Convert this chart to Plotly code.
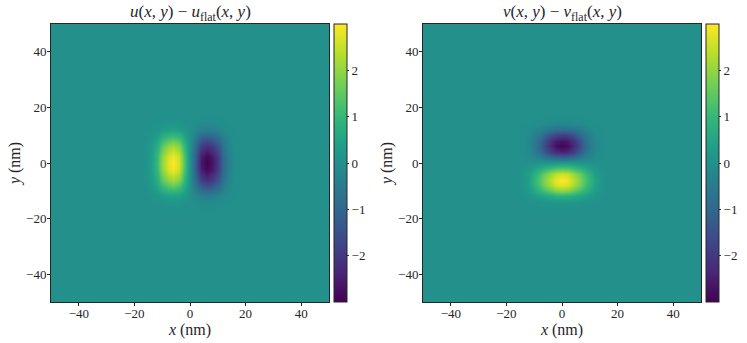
import plotly.graph_objects as go

# grid in nm, the zero border around the typed block is added below
grid = [-50, -18, -16, -14, -12, -10, -8, -6, -4, -2, 0, 2, 4, 6, 8, 10, 12, 14, 16, 18, 50]
tick_vals = [-40, -20, 0, 20, 40]
cbar_ticks = [-2, -1, 0, 1, 2]

# u - u_flat, columns x = -16..16, first row y = -16
u_rows = [
    [0.00, 0.00, 0.01, 0.02, 0.03, 0.03, 0.03, 0.01, 0, -0.01, -0.03, -0.03, -0.03, -0.02, -0.01, 0.00, 0.00],
    [0.00, 0.02, 0.05, 0.10, 0.14, 0.15, 0.13, 0.07, 0, -0.07, -0.13, -0.15, -0.14, -0.10, -0.05, -0.02, 0.00],
    [0.01, 0.05, 0.14, 0.28, 0.38, 0.42, 0.36, 0.20, 0, -0.20, -0.36, -0.42, -0.38, -0.28, -0.14, -0.05, -0.01],
    [0.03, 0.11, 0.32, 0.64, 0.86, 0.96, 0.83, 0.45, 0, -0.45, -0.83, -0.96, -0.86, -0.64, -0.32, -0.11, -0.03],
    [0.04, 0.19, 0.54, 1.08, 1.46, 1.62, 1.40, 0.76, 0, -0.76, -1.40, -1.62, -1.46, -1.08, -0.54, -0.19, -0.04],
    [0.06, 0.25, 0.72, 1.44, 1.94, 2.16, 1.87, 1.01, 0, -1.01, -1.87, -2.16, -1.94, -1.44, -0.72, -0.25, -0.06],
    [0.07, 0.30, 0.86, 1.72, 2.32, 2.58, 2.24, 1.20, 0, -1.20, -2.24, -2.58, -2.32, -1.72, -0.86, -0.30, -0.07],
    [0.08, 0.34, 0.97, 1.94, 2.62, 2.91, 2.52, 1.36, 0, -1.36, -2.52, -2.91, -2.62, -1.94, -0.97, -0.34, -0.08],
    [0.08, 0.35, 1.00, 2.00, 2.70, 3.00, 2.60, 1.40, 0, -1.40, -2.60, -3.00, -2.70, -2.00, -1.00, -0.35, -0.08],
    [0.08, 0.34, 0.97, 1.94, 2.62, 2.91, 2.52, 1.36, 0, -1.36, -2.52, -2.91, -2.62, -1.94, -0.97, -0.34, -0.08],
    [0.07, 0.30, 0.86, 1.72, 2.32, 2.58, 2.24, 1.20, 0, -1.20, -2.24, -2.58, -2.32, -1.72, -0.86, -0.30, -0.07],
    [0.06, 0.25, 0.72, 1.44, 1.94, 2.16, 1.87, 1.01, 0, -1.01, -1.87, -2.16, -1.94, -1.44, -0.72, -0.25, -0.06],
    [0.04, 0.19, 0.54, 1.08, 1.46, 1.62, 1.40, 0.76, 0, -0.76, -1.40, -1.62, -1.46, -1.08, -0.54, -0.19, -0.04],
    [0.03, 0.11, 0.32, 0.64, 0.86, 0.96, 0.83, 0.45, 0, -0.45, -0.83, -0.96, -0.86, -0.64, -0.32, -0.11, -0.03],
    [0.01, 0.05, 0.14, 0.28, 0.38, 0.42, 0.36, 0.20, 0, -0.20, -0.36, -0.42, -0.38, -0.28, -0.14, -0.05, -0.01],
    [0.00, 0.02, 0.05, 0.10, 0.14, 0.15, 0.13, 0.07, 0, -0.07, -0.13, -0.15, -0.14, -0.10, -0.05, -0.02, 0.00],
    [0.00, 0.00, 0.01, 0.02, 0.03, 0.03, 0.03, 0.01, 0, -0.01, -0.03, -0.03, -0.03, -0.02, -0.01, 0.00, 0.00],
]

# v - v_flat, columns x = -16..16, first row y = -16
v_rows = [
    [0.00, 0.00, 0.00, 0.01, 0.01, 0.02, 0.02, 0.03, 0.03, 0.03, 0.02, 0.02, 0.01, 0.01, 0.00, 0.00, 0.00],
    [0.00, 0.01, 0.03, 0.06, 0.09, 0.13, 0.16, 0.19, 0.20, 0.19, 0.16, 0.13, 0.09, 0.06, 0.03, 0.01, 0.00],
    [0.01, 0.04, 0.11, 0.23, 0.38, 0.51, 0.64, 0.75, 0.80, 0.75, 0.64, 0.51, 0.38, 0.23, 0.11, 0.04, 0.01],
    [0.02, 0.10, 0.27, 0.55, 0.89, 1.22, 1.52, 1.79, 1.90, 1.79, 1.52, 1.22, 0.89, 0.55, 0.27, 0.10, 0.02],
    [0.03, 0.14, 0.39, 0.81, 1.32, 1.79, 2.24, 2.63, 2.80, 2.63, 2.24, 1.79, 1.32, 0.81, 0.39, 0.14, 0.03],
    [0.03, 0.15, 0.42, 0.87, 1.41, 1.92, 2.40, 2.82, 3.00, 2.82, 2.40, 1.92, 1.41, 0.87, 0.42, 0.15, 0.03],
    [0.03, 0.13, 0.36, 0.75, 1.22, 1.66, 2.08, 2.44, 2.60, 2.44, 2.08, 1.66, 1.22, 0.75, 0.36, 0.13, 0.03],
    [0.02, 0.08, 0.21, 0.44, 0.71, 0.96, 1.20, 1.41, 1.50, 1.41, 1.20, 0.96, 0.71, 0.44, 0.21, 0.08, 0.02],
    [0.00, 0.02, 0.04, 0.09, 0.14, 0.19, 0.24, 0.28, 0.30, 0.28, 0.24, 0.19, 0.14, 0.09, 0.04, 0.02, 0.00],
    [0.00, -0.02, -0.08, -0.22, -0.43, -0.70, -0.96, -1.13, -1.20, -1.13, -0.96, -0.70, -0.43, -0.22, -0.08, -0.02, 0.00],
    [0.00, -0.05, -0.17, -0.43, -0.86, -1.39, -1.92, -2.26, -2.40, -2.26, -1.92, -1.39, -0.86, -0.43, -0.17, -0.05, 0.00],
    [0.00, -0.06, -0.21, -0.53, -1.06, -1.71, -2.36, -2.77, -2.95, -2.77, -2.36, -1.71, -1.06, -0.53, -0.21, -0.06, 0.00],
    [0.00, -0.05, -0.19, -0.49, -0.97, -1.57, -2.16, -2.54, -2.70, -2.54, -2.16, -1.57, -0.97, -0.49, -0.19, -0.05, 0.00],
    [0.00, -0.04, -0.13, -0.34, -0.68, -1.10, -1.52, -1.79, -1.90, -1.79, -1.52, -1.10, -0.68, -0.34, -0.13, -0.04, 0.00],
    [0.00, -0.02, -0.06, -0.16, -0.32, -0.52, -0.72, -0.85, -0.90, -0.85, -0.72, -0.52, -0.32, -0.16, -0.06, -0.02, 0.00],
    [0.00, -0.01, -0.02, -0.05, -0.09, -0.15, -0.20, -0.24, -0.25, -0.24, -0.20, -0.15, -0.09, -0.05, -0.02, -0.01, 0.00],
    [0.00, 0.00, 0.00, -0.01, -0.01, -0.02, -0.03, -0.04, -0.04, -0.04, -0.03, -0.02, -0.01, -0.01, 0.00, 0.00, 0.00],
]

W, H = 747, 343
FONT = "Liberation Serif"
INK = "#262626"


def pad(rows):
    blank = [0] * (len(rows[0]) + 4)
    return [blank, blank] + [[0, 0] + r + [0, 0] for r in rows] + [blank, blank]


def heat(z, cbar_left, xaxis, yaxis):
    return go.Heatmap(
        x=grid, y=grid, z=pad(z), zmin=-3, zmax=3, zsmooth="best",
        colorscale="Viridis", hoverinfo="skip", xaxis=xaxis, yaxis=yaxis,
        colorbar=dict(
            x=cbar_left / W, xanchor="left", xpad=0, ypad=0,
            y=1 - 24 / H, yanchor="top", len=278 / H, lenmode="fraction",
            thickness=13, thicknessmode="pixels",
            outlinewidth=1, outlinecolor=INK,
            tickmode="array", tickvals=cbar_ticks, ticks="outside",
            ticklen=2, tickwidth=1, tickcolor=INK,
            tickfont=dict(family=FONT, size=13, color=INK),
        ),
    )


fig = go.Figure()
fig.add_trace(heat(u_rows, 334, "x", "y"))
fig.add_trace(heat(v_rows, 705.5, "x2", "y2"))

axis = dict(
    range=[-50, 50], tickmode="array", tickvals=tick_vals, ticks="outside",
    ticklen=3, tickwidth=1, tickcolor=INK, showgrid=False, zeroline=False,
    showline=True, mirror=True, linecolor=INK, linewidth=1,
    tickfont=dict(family=FONT, size=13, color=INK),
)
x_title = dict(text="<i>x</i> (nm)", font=dict(family=FONT, size=16, color=INK), standoff=1)
y_title = dict(text="<i>y</i> (nm)", font=dict(family=FONT, size=16, color=INK), standoff=1)
y_dom = [1 - 302 / H, 1 - 24 / H]

fig.update_layout(
    width=W, height=H, margin=dict(l=0, r=0, t=0, b=0),
    paper_bgcolor="white", plot_bgcolor="white", showlegend=False,
    xaxis=dict(axis, domain=[51 / W, 329 / W], anchor="y", title=x_title, ticklabelstandoff=-4),
    yaxis=dict(axis, domain=y_dom, anchor="x", title=y_title, ticklabelstandoff=-2),
    xaxis2=dict(axis, domain=[423 / W, 701 / W], anchor="y2", title=x_title, ticklabelstandoff=-4),
    yaxis2=dict(axis, domain=y_dom, anchor="x2", title=y_title, ticklabelstandoff=-2),
)

titles = [
    ("<i>u</i>(<i>x</i>, <i>y</i>) − <i>u</i><sub>flat</sub>(<i>x</i>, <i>y</i>)", 190),
    ("<i>v</i>(<i>x</i>, <i>y</i>) − <i>v</i><sub>flat</sub>(<i>x</i>, <i>y</i>)", 562),
]
for text, cx in titles:
    fig.add_annotation(
        text=text, x=cx / W, y=1 - 26 / H, xref="paper", yref="paper",
        xanchor="center", yanchor="bottom", showarrow=False,
        font=dict(family=FONT, size=17, color=INK),
    )

# drop the default page margin so the figure sits at the window corner
fig.write_html(
    "out.html",
    config={"displayModeBar": False},
    post_script="document.body.style.margin='0';",
)
